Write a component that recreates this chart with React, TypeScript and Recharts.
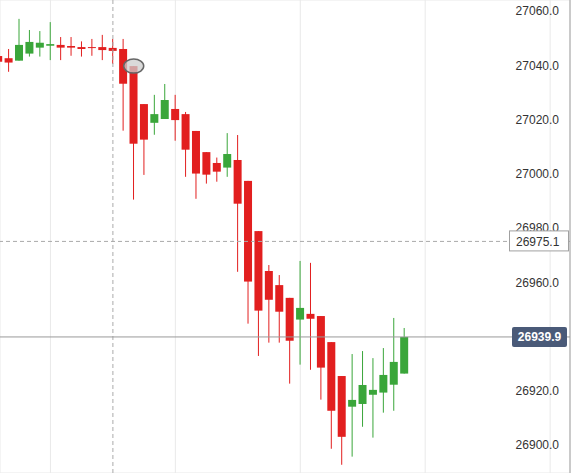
import React from 'react';
import { ComposedChart, Bar, XAxis, YAxis, CartesianGrid, ReferenceLine, ReferenceDot } from 'recharts';

const openValues = [27043.4, 27042.6, 27041.7, 27044.3, 27046.5, 27047.2, 27047.5, 27047.1, 27046.7, 27046.7, 27046.7, 27046.4, 27046.0, 27039.7, 27025.7, 27018.8, 27020.2, 27023.9, 27022.0, 27015.8, 27008.0, 27004.0, 27002.3, 27005.1, 26997.4, 26978.9, 26964.2, 26959.0, 26954.3, 26946.3, 26948.4, 26947.6, 26938.0, 26925.5, 26914.2, 26915.2, 26918.6, 26919.4, 26922.3, 26926.4];
const highValues = [27044.5, 27046.0, 27057.1, 27053.0, 27052.6, 27055.9, 27050.4, 27050.4, 27048.8, 27049.7, 27051.2, 27049.7, 27049.7, 27039.7, 27025.7, 27029.1, 27033.1, 27029.1, 27022.8, 27015.8, 27008.0, 27006.0, 27015.0, 27014.3, 26997.4, 26978.9, 26966.4, 26962.7, 26954.3, 26967.9, 26967.2, 26947.6, 26938.0, 26925.5, 26933.6, 26934.7, 26932.1, 26935.8, 26946.9, 26943.2];
const lowValues = [27040.5, 27037.6, 27041.7, 27043.2, 27043.2, 27041.9, 27041.9, 27043.5, 27043.2, 27043.5, 27041.9, 27040.5, 27015.9, 26990.5, 26999.6, 27014.4, 27020.2, 27012.2, 26998.9, 26990.8, 26996.4, 26997.1, 26998.9, 26963.9, 26944.8, 26932.9, 26937.8, 26937.8, 26922.7, 26929.7, 26927.8, 26916.8, 26898.7, 26892.8, 26895.8, 26906.8, 26902.8, 26912.0, 26912.7, 26926.4];
const closeValues = [27041.3, 27041.0, 27047.5, 27048.6, 27048.3, 27047.8, 27046.5, 27046.5, 27046.0, 27046.4, 27045.6, 27045.3, 27033.2, 27011.1, 27012.6, 27022.0, 27027.2, 27019.8, 27008.9, 27000.1, 26999.7, 27000.8, 27007.3, 26989.0, 26960.3, 26949.6, 26953.6, 26949.2, 26938.5, 26950.6, 26946.6, 26928.6, 26912.7, 26903.1, 26916.7, 26922.2, 26920.4, 26925.9, 26930.7, 26939.9];

const priceTicks = [26900, 26920, 26940, 26960, 26980, 27000, 27020, 27040, 27060];
const timeGridTicks = [5, 17, 29, 41, 53];
const crosshairIndex = 11;
const markedIndex = 13;
const crosshairPrice = 26975.1;
const lastPrice = closeValues[closeValues.length - 1];

const X_DOMAIN: [number, number] = [0.154, 54.91];
const Y_DOMAIN: [number, number] = [26889.77, 27064.05];

const RED = '#e21f1f';
const GREEN = '#3aa63a';
const FONT = "Arial, 'Liberation Sans', sans-serif";

// tick labels fully covered by the last-price tag are not drawn (as in the original)
const visibleTickLabels = priceTicks.filter((t) => Math.abs(t - lastPrice) > 3);

const data = openValues.map((_, i) => ({
  i,
  open: openValues[i],
  high: highValues[i],
  low: lowValues[i],
  close: closeValues[i],
  range: [lowValues[i], highValues[i]],
}));

const Candle = (props: any) => {
  const { x, y, width, height, payload } = props;
  if (!payload) return null;
  const { open, close, high, low } = payload;
  const color = close >= open ? GREEN : RED;
  const yTop = Math.min(y, y + height);
  const h = Math.abs(height);
  const span = high - low || 1;
  const ppu = h / span;
  const top = yTop + (high - Math.max(open, close)) * ppu;
  const bottom = yTop + (high - Math.min(open, close)) * ppu;
  const cx = x + width / 2;
  return (
    <g>
      <line x1={cx} x2={cx} y1={yTop} y2={yTop + h} stroke={color} strokeWidth={1} />
      <rect x={x} y={top} width={width} height={Math.max(1, bottom - top)} fill={color} />
    </g>
  );
};

const TickText = (props: any) => {
  const { viewBox, text } = props;
  if (!viewBox) return null;
  const right = viewBox.x + viewBox.width;
  return (
    <text x={right - 11} y={viewBox.y} dy="0.355em" textAnchor="end" fill="#333" fontSize={12} fontFamily={FONT}>
      {text}
    </text>
  );
};

const CrossTag = (props: any) => {
  const { viewBox } = props;
  if (!viewBox) return null;
  const right = viewBox.x + viewBox.width;
  const cy = viewBox.y;
  return (
    <g>
      <rect x={right - 60.5} y={cy - 10.5} width={59} height={20} fill="#fff" stroke="#a0a0a0" strokeWidth={1} />
      <text x={right - 54} y={cy} dy="0.355em" fill="#333" fontSize={12} fontFamily={FONT}>
        {crosshairPrice.toFixed(1)}
      </text>
    </g>
  );
};

const LastTag = (props: any) => {
  const { viewBox } = props;
  if (!viewBox) return null;
  const right = viewBox.x + viewBox.width;
  const cy = viewBox.y;
  return (
    <g>
      <rect x={right - 58} y={cy - 10} width={55} height={20} rx={2} ry={2} fill="#4a5a78" />
      <text x={right - 30.5} y={cy} dy="0.355em" textAnchor="middle" fill="#fff" fontSize={12} fontWeight="bold" fontFamily={FONT}>
        {lastPrice.toFixed(1)}
      </text>
    </g>
  );
};

const Marker = (props: any) => {
  const { cx, cy } = props;
  return <ellipse cx={cx} cy={cy} rx={10} ry={7} fill="rgba(205,205,205,0.75)" stroke="#666" strokeWidth={1.5} />;
};

export default function App() {
  return (
    <div style={{ position: 'absolute', left: 0, top: 0, width: 574, height: 473, background: '#fff' }}>
      <ComposedChart
        width={574}
        height={473}
        data={data}
        margin={{ top: 0, right: 4, bottom: 0, left: 0 }}
        style={{ fontFamily: FONT }}
      >
        <CartesianGrid stroke="#e9e9e9" />
        <XAxis dataKey="i" type="number" domain={X_DOMAIN} ticks={timeGridTicks} allowDataOverflow hide />
        <YAxis
          orientation="right"
          mirror
          type="number"
          domain={Y_DOMAIN}
          ticks={priceTicks}
          allowDataOverflow
          axisLine={{ stroke: '#a0a0a0' }}
          tickLine={false}
          tick={false}
          width={60}
        />
        <ReferenceLine x={crosshairIndex} stroke="#aaa" strokeDasharray="4 3" />
        <Bar dataKey="range" barSize={8} shape={<Candle />} isAnimationActive={false} />
        {visibleTickLabels.map((t) => (
          <ReferenceLine key={t} y={t} stroke="none" label={<TickText text={t.toFixed(1)} />} />
        ))}
        <ReferenceLine y={crosshairPrice} stroke="#aaa" strokeDasharray="4 3" label={<CrossTag />} />
        <ReferenceLine y={lastPrice} stroke="#9a9a9a" label={<LastTag />} />
        <ReferenceDot x={markedIndex} y={openValues[markedIndex]} r={8} shape={<Marker />} />
      </ComposedChart>
    </div>
  );
}
